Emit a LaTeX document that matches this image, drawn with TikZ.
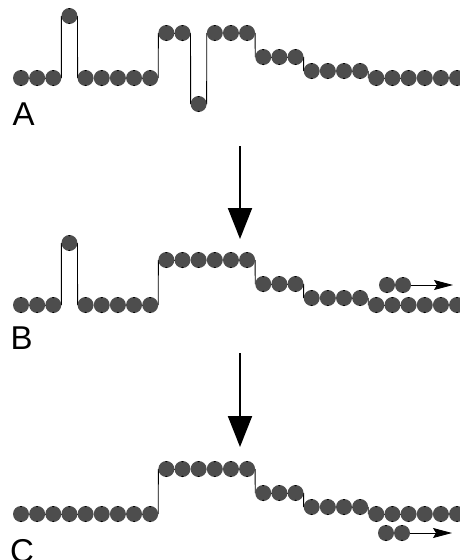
\documentclass[tikz,border=0pt]{standalone}
\usepackage{fontspec}
\setmainfont{Liberation Sans}
\usetikzlibrary{arrows.meta, backgrounds}
\definecolor{beadgray}{RGB}{77,77,77}

\begin{document}
\begin{tikzpicture}[x=1pt, y=-1pt,
    bead/.style={circle, 
      fill=beadgray, 
      minimum size=16pt, 
      inner sep=0pt, 
      outer sep=0pt, 
      path picture={
        \fill[black] (path picture bounding box.north) circle (1.3pt);
        \fill[black] (path picture bounding box.south) circle (1.3pt);
      }},
    link/.style={draw, line width=0.9pt},
    rowname/.style={font=\fontsize{33}{33}\selectfont, 
      inner sep=0pt, 
      anchor=base west},
    push/.style={line width=2pt, 
      -{Triangle[length=31pt, width=24pt]}},
    slide/.style={line width=0.9pt, 
      -{Stealth[length=19pt, width=10pt, inset=3pt]}}]
  \useasboundingbox (0,0) rectangle (460,560);

  % ROW A

  \foreach \l [count=\k from 0] in {0,0,0,-62,0,0,0,0,0,-45,-45,26,-45,-45,-45,
      -21,-21,-21,-7,-7,-7,-7,0,0,0,0,0,0}
    \node[bead] (a\k) at (21+16.15*\k, 78+\l) {};

  \node[rowname] (nameA) at (12.5,125) {A};

  % ROW B

  \foreach \l [count=\k from 0] in {0,0,0,-62,0,0,0,0,0,-45,-45,-45,-45,-45,-45,
      -21,-21,-21,-7,-7,-7,-7,0,0,0,0,0,0}
    \node[bead] (b\k) at (21+16.15*\k, 305+\l) {};

  \node[bead] (b28) at (387,285) {};
  \node[bead] (b29) at (403,285) {};
  \coordinate (bslide) at (453,285);

  \node[rowname] (nameB) at (10.3,349) {B};

  % ROW C

  \foreach \l [count=\k from 0] in {0,0,0,0,0,0,0,0,0,-45,-45,-45,-45,-45,-45,
      -21,-21,-21,-7,-7,-7,-7,0,0,0,0,0,0}
    \node[bead] (c\k) at (21+16.15*\k, 514+\l) {};

  \node[bead] (c28) at (386,533) {};
  \node[bead] (c29) at (402,533) {};
  \coordinate (cslide) at (452,533);

  \node[rowname] (nameC) at (10,562) {C};

  % LINKS

  \begin{pgfonlayer}{background}
    \foreach \k [count=\j from 1] in {0,...,26} {
      \draw[link] (a\k.east) -- (a\j.west);
      \draw[link] (b\k.east) -- (b\j.west);
      \draw[link] (c\k.east) -- (c\j.west);
    }
  \end{pgfonlayer}

  % ARROWS

  \coordinate (pushAB) at (240,146);
  \coordinate (tipAB) at (240,239);
  \coordinate (pushBC) at (240,353);
  \coordinate (tipBC) at (240,447);

  \draw[push] (pushAB) -- (tipAB);
  \draw[push] (pushBC) -- (tipBC);

  \draw[slide] (b29.east) -- (bslide);
  \draw[slide] (c29.east) -- (cslide);

\end{tikzpicture}
\end{document}
